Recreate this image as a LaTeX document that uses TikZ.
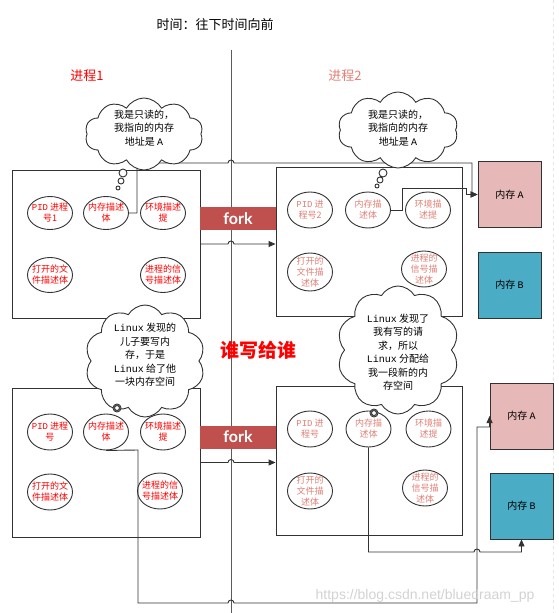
\documentclass[tikz,border=0pt]{standalone}
\usepackage{fontspec}
\setmainfont{Noto Sans CJK SC}
\setmonofont{Liberation Mono}
\newfontfamily\forkfont{Lato}
\newfontfamily\wmfont{Liberation Sans}
\usetikzlibrary{shapes.geometric, shapes.symbols, arrows.meta}
\definecolor{forkred}{RGB}{192,80,77}
\definecolor{memapink}{RGB}{230,185,184}
\definecolor{membblue}{RGB}{75,172,198}
\definecolor{linegray}{RGB}{50,50,50}
\definecolor{proctwored}{RGB}{226,128,118}

\begin{document}
\begin{tikzpicture}[x=1pt, y=-1pt,
    every node/.style={font=\fontsize{10}{13}\selectfont},
    procbox/.style={draw=linegray, line width=0.9pt, inner sep=0pt},
    field/.style={ellipse, draw=linegray, line width=0.9pt, fill=white,
      minimum width=45pt, minimum height=35pt, inner sep=-7pt, align=center,
      font=\fontsize{9}{11}\selectfont},
    fieldone/.style={field, text=red},
    fieldtwo/.style={field, text=proctwored},
    thought/.style={cloud, cloud puffs=10, cloud puff arc=120, draw=linegray,
      fill=white, line width=0.9pt, inner sep=0pt},
    thoughttxt/.style={align=center, font=\fontsize{10}{13.5}\selectfont},
    memory/.style={draw=linegray, line width=0.9pt, minimum width=63pt,
      minimum height=66pt, inner sep=0pt},
    forkbar/.style={fill=forkred, minimum width=76pt, minimum height=23pt,
      inner sep=0pt, text=white, font=\forkfont\bfseries\fontsize{16}{16}\selectfont},
    link/.style={draw=linegray, line width=0.9pt},
    tip/.style={-{Triangle[length=7pt,width=6pt]}}]
  \useasboundingbox (0,0) rectangle (559,613);

  % eixo do tempo
  \draw[gray!20, dashed] (553,0) -- (553,613);
  \coordinate (ttop) at (231,50);
  \coordinate (tbot) at (231,613);
  \draw[link, linegray!80] (ttop) -- (tbot);
  \node (title) at (215,25) {\fontsize{13}{13}\selectfont 时间：往下时间向前};
  \node[text=red, font=\fontsize{13}{13}\selectfont] (lblone) at (87,76) {进程1};
  \node[text=proctwored, font=\fontsize{13}{13}\selectfont] (lbltwo) at (345,76) {进程2};
  \node[text=red, font=\bfseries\fontsize{19}{19}\selectfont] (who) at (258,350) {谁写给谁};

  % processos
  \node[procbox, minimum width=188pt, minimum height=148pt] (pone) at (106,244) {};
  \node[procbox, minimum width=186pt, minimum height=149pt] (ptwo) at (369,241.5) {};
  \node[procbox, minimum width=188pt, minimum height=149pt] (pthree) at (106,462.5) {};
  \node[procbox, minimum width=186pt, minimum height=149pt] (pfour) at (369,460.5) {};

  \node[fieldone, minimum height=33pt] (pidone) at (50,213) {\texttt{PID} 进程\\号1};
  \node[fieldone, minimum height=33pt] (memone) at (106,213) {内存描述\\体};
  \node[fieldone, minimum height=33pt] (envone) at (163,213) {环境描述\\提};
  \node[fieldone] (fileone) at (50,275) {打开的文\\件描述体};
  \node[fieldone] (sigone) at (163,275) {进程的信\\号描述体};

  \node[fieldtwo, minimum height=36pt] (pidtwo) at (310,210) {\texttt{PID} 进\\程号2};
  \node[fieldtwo, minimum height=36pt] (memtwo) at (368,210) {内存描\\述体};
  \node[fieldtwo, minimum height=36pt] (envtwo) at (428,210) {环境描\\述提};
  \node[fieldtwo, minimum height=38pt] (filetwo) at (310,272) {打开的\\文件描\\述体};
  \node[fieldtwo, minimum height=36pt] (sigtwo) at (424,269) {进程的\\信号描\\述体};

  \node[fieldone, minimum height=36pt] (pidthree) at (50,432) {\texttt{PID} 进程\\号};
  \node[fieldone, minimum height=36pt] (memthree) at (106,432) {内存描述\\体};
  \node[fieldone, minimum height=36pt] (envthree) at (163,432) {环境描述\\提};
  \node[fieldone, minimum height=36pt] (filethree) at (50,492) {打开的文\\件描述体};
  \node[fieldone, minimum height=36pt] (sigthree) at (160,491) {进程的信\\号描述体};

  \node[fieldtwo, minimum height=36pt] (pidfour) at (310,429) {\texttt{PID} 进\\程号};
  \node[fieldtwo, minimum height=36pt] (memfour) at (368.5,429) {内存描\\述体};
  \node[fieldtwo, minimum height=36pt] (envfour) at (428.5,429) {环境描\\述提};
  \node[fieldtwo, minimum height=36pt] (filefour) at (310,491) {打开的\\文件描\\述体};
  \node[fieldtwo, minimum height=36pt] (sigfour) at (425,488) {进程的\\信号描\\述体};

  % memoria
  \node[memory, fill=memapink] (memaone) at (509.5,194.5) {内存 \texttt{A}};
  \node[memory, fill=membblue] (memb) at (509.5,285) {内存 \texttt{B}};
  \node[memory, fill=memapink] (mematwo) at (521.5,416) {内存 \texttt{A}};
  \node[memory, fill=membblue] (membtwo) at (521.5,506) {内存 \texttt{B}};

  % fork
  \node[forkbar] (forkone) at (238,218.5) {fork};
  \node[forkbar] (forktwo) at (238,437) {fork};
  \draw[link, tip] (pone.east) -- (228,244) arc[start angle=180, end angle=0, radius=3pt]
    -- (ptwo.west |- pone.east);
  \draw[link, tip] (pthree.east) -- (228,462.5) arc[start angle=180, end angle=0, radius=3pt]
    -- (pfour.west |- pthree.east);

  % ligacoes para a memoria
  \draw[link, tip] (memone.east) -- (137,213) |- (228,163)
    arc[start angle=180, end angle=0, radius=3pt] -- (472,163) |- (memaone.west);
  \draw[link, tip] (memtwo.east) -- (402,210) |- (466,188) |- (memaone.west);
  \draw[link, tip] (memthree.south) -- (138,450) |- (228,603)
    arc[start angle=180, end angle=0, radius=3pt] -- (477,603) |- (484,427) -| (mematwo.west);
  \draw[link, tip] (memfour.south) |- (474,552)
    arc[start angle=180, end angle=0, radius=3pt] -| (membtwo.south);

  % baloes de pensamento
  \node[thought, minimum width=118pt, minimum height=72pt] (thinkone) at (144,134) {};
  \node[thoughttxt] at (144,128) {我是只读的，\\我指向的内存\\地址是 \texttt{A}};
  \node[thought, minimum width=120pt, minimum height=76pt] (thinktwo) at (398,130) {};
  \node[thoughttxt] at (398,128) {我是只读的，\\我指向的内存\\地址是 \texttt{A}};
  \node[thought, minimum width=120pt, minimum height=112pt] (thinkthree) at (145,361) {};
  \node[thoughttxt] at (145,355) {\texttt{Linux} 发现的\\儿子要写内\\存，于是\\\texttt{Linux} 给了他\\一块内存空间};
  \node[thought, minimum width=122pt, minimum height=128pt] (thinkfour) at (398,350) {};
  \node[thoughttxt] at (398,352) {\texttt{Linux} 发现了\\我有写的请\\求，所以\\\texttt{Linux} 分配给\\我一段新的内\\存空间};

  \draw[link, fill=white] (123,173) circle (4pt) (121,181) circle (3pt) (118,188) circle (2pt);
  \draw[link, fill=white] (383,173) circle (4pt) (380,180) circle (3pt) (377,186) circle (2pt);
  \draw[link, fill=white] (117,408) circle (4pt) (117,408) circle (2.5pt);
  \draw[link, fill=white] (374,413) circle (4pt) (374,413) circle (2.5pt);

  \node[text=gray!35, font=\wmfont\fontsize{14}{14}\selectfont] (wm) at (425,596)
    {https://blog.csdn.net/bluedraam\_pp};
\end{tikzpicture}
\end{document}
